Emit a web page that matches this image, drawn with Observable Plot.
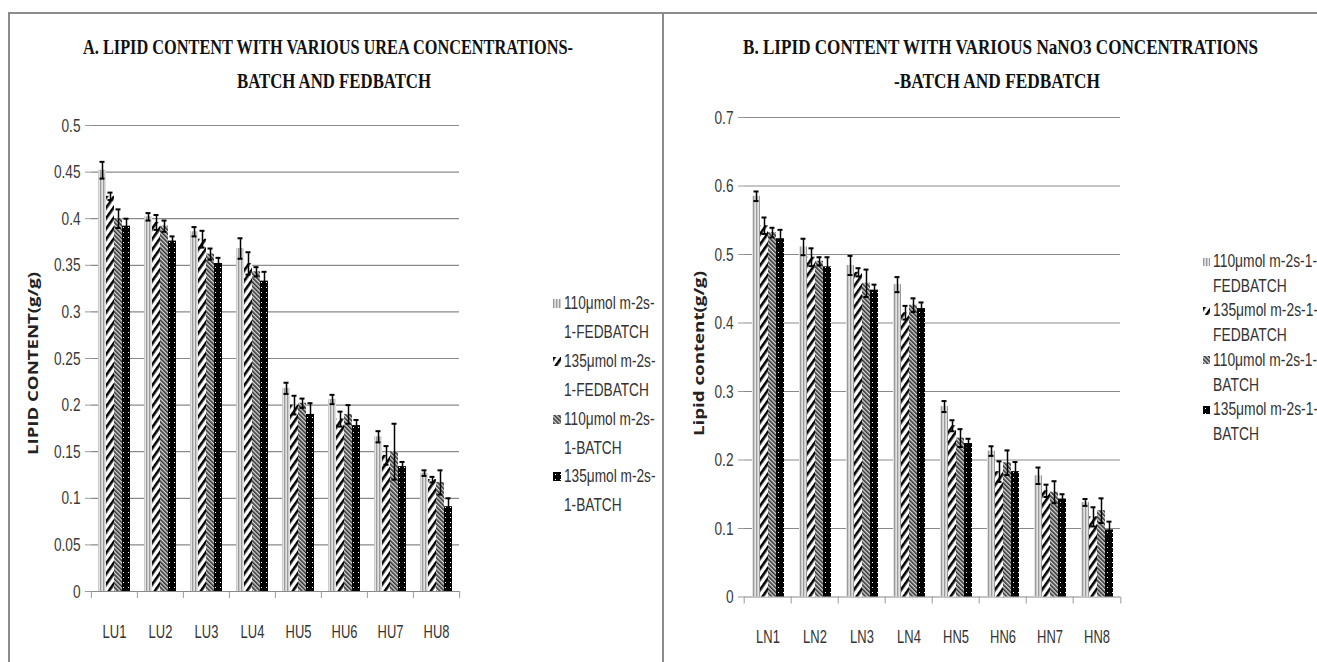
<!DOCTYPE html>
<html><head><meta charset="utf-8">
<script src="https://cdn.jsdelivr.net/npm/d3@7"></script>
<script src="https://cdn.jsdelivr.net/npm/@observablehq/plot@0.6"></script>
<style>
html,body{margin:0;padding:0;background:#fff;}
body{width:1317px;height:662px;position:relative;overflow:hidden;font-family:"Liberation Sans",Arial,sans-serif;}
.title{position:absolute;font-family:"Liberation Serif","Times New Roman",serif;font-weight:bold;font-size:22px;line-height:22px;color:#111;white-space:nowrap;transform-origin:0 0;}
.leg{position:absolute;color:#333;white-space:nowrap;transform-origin:0 50%;font-family:"Liberation Sans",Arial,sans-serif;}
.ylab{position:absolute;font-family:"Open Sans",sans-serif;font-weight:bold;color:#222;white-space:nowrap;transform-origin:center center;}
.panel{position:absolute;top:0;}
.border{position:absolute;background:#8c8c8c;}
</style>
</head><body>
<svg width="0" height="0" style="position:absolute">
<defs>
<pattern id="p0" width="3" height="3" patternUnits="userSpaceOnUse">
  <rect width="3" height="3" fill="#e2e2e2"/><rect width="1.3" height="3" fill="#9a9a9a"/>
</pattern>
<pattern id="p1" width="6" height="6" patternUnits="userSpaceOnUse" patternTransform="rotate(35)">
  <rect width="6" height="6" fill="#fff"/><rect width="2.6" height="6" fill="#000"/>
</pattern>
<pattern id="p2" width="3" height="3" patternUnits="userSpaceOnUse" patternTransform="rotate(-45)">
  <rect width="3" height="3" fill="#d8d8d8"/><rect width="1.6" height="3" fill="#333"/>
</pattern>
<pattern id="p3" width="5" height="5" patternUnits="userSpaceOnUse">
  <rect width="5" height="5" fill="#000"/><rect x="2" y="2" width="1" height="1" fill="#fff"/>
</pattern>
</defs>
</svg>
<div class="border" style="left:8px;top:12px;width:1309px;height:2px;"></div>
<div class="border" style="left:8px;top:12px;width:1.5px;height:650px;"></div>
<div class="border" style="left:662px;top:12px;width:2px;height:650px;"></div>
<div id="pa" class="panel" style="left:0px"></div>
<div id="pb" class="panel" style="left:663px"></div>
<div id="overlay"></div>
<script>
// ---------- data ----------
const seriesNames = ["110μmol m-2s-1-FEDBATCH", "135μmol m-2s-1-FEDBATCH", "110μmol m-2s-1-BATCH", "135μmol m-2s-1-BATCH"];
const patterns = ["p0", "p1", "p2", "p3"];

const catsA = ["LU1", "LU2", "LU3", "LU4", "HU5", "HU6", "HU7", "HU8"];
const a110Fed = [0.452, 0.402, 0.386, 0.368, 0.218, 0.206, 0.166, 0.127];
const a135Fed = [0.424, 0.396, 0.378, 0.352, 0.200, 0.185, 0.146, 0.120];
const a110Bat = [0.400, 0.392, 0.362, 0.343, 0.202, 0.190, 0.150, 0.117];
const a135Bat = [0.392, 0.376, 0.352, 0.333, 0.190, 0.178, 0.134, 0.091];
const a110FedErr = [0.009, 0.004, 0.005, 0.011, 0.006, 0.005, 0.006, 0.003];
const a135FedErr = [0.004, 0.008, 0.009, 0.012, 0.010, 0.008, 0.010, 0.003];
const a110BatErr = [0.010, 0.006, 0.006, 0.005, 0.005, 0.010, 0.030, 0.013];
const a135BatErr = [0.008, 0.005, 0.006, 0.010, 0.012, 0.006, 0.005, 0.009];
const yTicksA = [0, 0.05, 0.1, 0.15, 0.2, 0.25, 0.3, 0.35, 0.4, 0.45, 0.5];

const catsB = ["LN1", "LN2", "LN3", "LN4", "HN5", "HN6", "HN7", "HN8"];
const b110Fed = [0.585, 0.511, 0.484, 0.456, 0.278, 0.213, 0.177, 0.138];
const b135Fed = [0.542, 0.496, 0.474, 0.415, 0.250, 0.183, 0.155, 0.117];
const b110Bat = [0.532, 0.490, 0.458, 0.426, 0.232, 0.196, 0.153, 0.126];
const b135Bat = [0.523, 0.482, 0.448, 0.421, 0.224, 0.183, 0.143, 0.098];
const b110FedErr = [0.007, 0.012, 0.014, 0.011, 0.008, 0.007, 0.012, 0.005];
const b135FedErr = [0.012, 0.013, 0.006, 0.010, 0.008, 0.015, 0.009, 0.014];
const b110BatErr = [0.007, 0.006, 0.020, 0.010, 0.013, 0.018, 0.016, 0.018];
const b135BatErr = [0.013, 0.014, 0.008, 0.009, 0.007, 0.014, 0.007, 0.012];
const yTicksB = [0, 0.1, 0.2, 0.3, 0.4, 0.5, 0.6, 0.7];

const titleA = ["A. LIPID CONTENT WITH VARIOUS UREA CONCENTRATIONS-", "BATCH AND FEDBATCH"];
const titleB = ["B.  LIPID CONTENT WITH VARIOUS NaNO3 CONCENTRATIONS", "-BATCH AND FEDBATCH"];
const yLabelA = "LIPID CONTENT(g/g)";
const yLabelB = "Lipid content(g/g)";
const legendLinesA = [["110μmol m-2s-", "1-FEDBATCH"], ["135μmol m-2s-", "1-FEDBATCH"], ["110μmol m-2s-", "1-BATCH"], ["135μmol m-2s-", "1-BATCH"]];
const legendLinesB = [["110μmol m-2s-1-", "FEDBATCH"], ["135μmol m-2s-1-", "FEDBATCH"], ["110μmol m-2s-1-", "BATCH"], ["135μmol m-2s-1-", "BATCH"]];

// ---------- chart ----------
const fmt = d => String(+d.toFixed(2));
const NARROW = 0.72;

// squeeze axis texts horizontally around their anchor point (svg must be in the DOM)
function condense(svg, s) {
  svg.querySelectorAll("text").forEach(t => {
    const b = t.getBBox();
    const anchor = getComputedStyle(t).textAnchor;
    const ax = anchor === "end" ? b.x + b.width : anchor === "middle" ? b.x + b.width / 2 : b.x;
    const tr = t.getAttribute("transform") || "";
    t.setAttribute("transform", `${tr} translate(${ax},0) scale(${s},1) translate(${-ax},0)`);
  });
}

function panel(cats, vals, errs, yTicks, L) {
  const data = [];
  cats.forEach((c, i) => seriesNames.forEach((s, j) => data.push({cat: c, ser: s, j, v: vals[j][i], e: errs[j][i]})));
  const bw = (L.width - L.ml - L.mr) / cats.length;
  const bars = seriesNames.map((s, j) => Plot.barY(data.filter(d => d.j === j), {fx: "cat", x: "ser", y: "v", fill: `url(#${patterns[j]})`}));
  return Plot.plot({
    width: L.width, height: 662,
    marginLeft: L.ml, marginRight: L.mr, marginTop: L.mt, marginBottom: L.mb,
    style: {background: "transparent", overflow: "visible", fontFamily: '"Liberation Sans",Arial,sans-serif'},
    fx: {domain: cats, padding: 0, label: null, axis: null},
    x: {domain: seriesNames, paddingInner: 0, paddingOuter: 0.72, axis: null},
    y: {domain: [0, yTicks[yTicks.length - 1]], label: null, axis: null},
    marks: [
      Plot.gridY({ticks: yTicks, stroke: "#8a8a8a", strokeOpacity: 1, strokeWidth: 1.2}),
      Plot.axisY({ticks: yTicks, tickFormat: fmt, tickSize: 6, tickPadding: 5, line: true, stroke: "#9a9a9a", fill: "#3a3a3a", fontSize: 19, label: null}),
      ...bars,
      Plot.ruleX(data, {fx: "cat", x: "ser", y1: d => d.v - d.e, y2: d => d.v + d.e, stroke: "#000", strokeWidth: 1.5}),
      Plot.tickY(data, {fx: "cat", x: "ser", y: d => d.v + d.e, insetLeft: 1.5, insetRight: 1.5, stroke: "#000", strokeWidth: 2}),
      Plot.tickY(data, {fx: "cat", x: "ser", y: d => d.v - d.e, insetLeft: 1.5, insetRight: 1.5, stroke: "#000", strokeWidth: 2}),
      Plot.axisFx({anchor: "bottom", tickSize: 0, tickPadding: L.labPad, fontSize: 18, fill: "#333", label: null}),
      Plot.axisFx({anchor: "bottom", tickSize: 7, text: null, dx: -bw / 2, stroke: "#9a9a9a", label: null}),
      Plot.axisFx({ticks: [cats[cats.length - 1]], anchor: "bottom", tickSize: 7, text: null, dx: bw / 2, stroke: "#9a9a9a", label: null})
    ]
  });
}

const svgA = panel(catsA, [a110Fed, a135Fed, a110Bat, a135Bat], [a110FedErr, a135FedErr, a110BatErr, a135BatErr], yTicksA,
  {width: 663, ml: 90, mr: 203, mt: 125, mb: 71, labPad: 34});
document.getElementById("pa").append(svgA);
condense(svgA, NARROW);
const svgB = panel(catsB, [b110Fed, b135Fed, b110Bat, b135Bat], [b110FedErr, b135FedErr, b110BatErr, b135BatErr], yTicksB,
  {width: 654, ml: 78, mr: 195, mt: 117, mb: 65.5, labPad: 33});
document.getElementById("pb").append(svgB);
condense(svgB, NARROW);

// ---------- titles, labels, legends ----------
const ov = document.getElementById("overlay");
function fitText(text, cx, top, targetW, cls) {
  const d = document.createElement("div");
  d.className = cls; d.textContent = text; d.style.left = "0px"; d.style.top = top + "px";
  ov.append(d);
  const w = d.getBoundingClientRect().width;
  d.style.left = (cx - targetW / 2) + "px";
  d.style.transform = `scaleX(${targetW / w})`;
}
fitText(titleA[0], 328, 36, 490, "title");
fitText(titleA[1], 334, 70, 194, "title");
fitText(titleB[0], 1000, 36, 515, "title");
fitText(titleB[1], 997, 70, 206, "title");

function ylab(text, cx, cy, size, len) {
  const d = document.createElement("div");
  d.className = "ylab"; d.textContent = text; d.style.fontSize = size + "px"; d.style.lineHeight = size + "px";
  ov.append(d);
  const r = d.getBoundingClientRect();
  d.style.left = (cx - r.width / 2) + "px"; d.style.top = (cy - r.height / 2) + "px";
  d.style.transform = `rotate(-90deg) scaleX(${len / r.width})`;
}
ylab(yLabelA, 33, 363, 15, 183);
ylab(yLabelB, 698, 353, 15, 165);

function legend(lines, x, y0, step, fontSize, sw, squeeze) {
  lines.forEach((pair, j) => {
    pair.forEach((t, k) => {
      const cy = y0 + (2 * j + k) * step;
      const d = document.createElement("div");
      d.className = "leg"; d.textContent = t;
      d.style.fontSize = fontSize + "px"; d.style.lineHeight = fontSize + "px";
      d.style.left = x + "px"; d.style.top = (cy - fontSize / 2) + "px";
      ov.append(d);
      d.style.transform = `scaleX(${squeeze})`;
      if (k === 0) {
        const s = document.createElementNS("http://www.w3.org/2000/svg", "svg");
        s.setAttribute("width", sw); s.setAttribute("height", sw + 1);
        s.style.position = "absolute"; s.style.left = (x - sw - 3) + "px"; s.style.top = (cy - sw / 2) + "px";
        const r = document.createElementNS("http://www.w3.org/2000/svg", "rect");
        r.setAttribute("width", sw); r.setAttribute("height", sw + 1); r.setAttribute("fill", `url(#${patterns[j]})`);
        s.append(r); ov.append(s);
      }
    });
  });
}
legend(legendLinesA, 564, 303, 28.9, 18, 8, 0.76);
legend(legendLinesB, 1213, 261, 24.7, 18, 7, 0.77);
</script>
</body></html>
